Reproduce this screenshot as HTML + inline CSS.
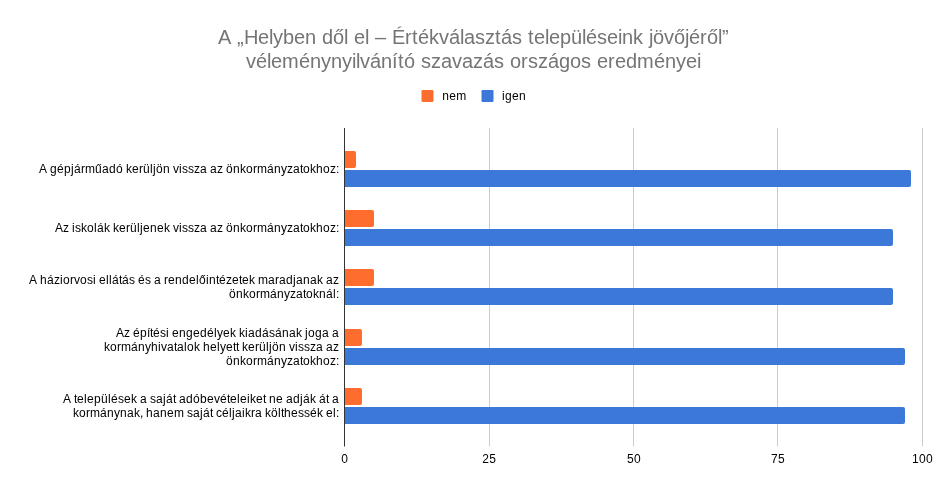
<!DOCTYPE html>
<html><head><meta charset="utf-8">
<style>
html,body{margin:0;padding:0;background:#fff;}
body{width:947px;height:495px;overflow:hidden;font-family:"Liberation Sans",sans-serif;}
svg{display:block;will-change:transform;}
text{font-family:"Liberation Sans",sans-serif;white-space:pre;}
</style></head><body>
<svg width="947" height="495" viewBox="0 0 947 495">
<rect width="947" height="495" fill="#fff"/>
<text x="218 231 237 244 258 269 273 283 294 305 316 322 333 344 348 354 365 369 375 386 392 405 412 418 429 439 449 460 464 475 485 495 501 512 522 528 534 545 549 560 571 582 586 597 607 618 622 633 643 649 653 664 674 685 689 700 707 718 722" y="43.7" font-size="20" fill="#757575">A „Helyben dől el – Értékválasztás településeink jövőjéről”</text>
<text x="246 256 267 271 282 299 310 321 331 342 352 356 360 370 381 392 398 404 415 421 431 441 452 462 473 483 494 504 510 521 528 538 548 559 570 581 591 597 608 615 626 637 654 665 676 686 697" y="67.7" font-size="20" fill="#757575">véleménynyilvánító szavazás országos eredményei</text>
<rect x="421.5" y="90" width="12" height="12" rx="1.2" fill="#ff6d2e"/>
<text x="442.3 449.3 456.3" y="99.5" font-size="12" fill="#000">nem</text>
<rect x="481.5" y="90" width="12" height="12" rx="1.2" fill="#3b78d8"/>
<text x="502 505 512 519" y="99.5" font-size="12" fill="#000">igen</text>
<g fill="#cccccc">
<rect x="489" y="128" width="1" height="318.5"/>
<rect x="633" y="128" width="1" height="318.5"/>
<rect x="777" y="128" width="1" height="318.5"/>
<rect x="922" y="128" width="1" height="318.5"/>
</g>
<g fill="#ff6d2e">
<path d="M345 151 H354 a2 2 0 0 1 2 2 V166 a2 2 0 0 1 -2 2 H345 Z"/>
<path d="M345 210 H372 a2 2 0 0 1 2 2 V225 a2 2 0 0 1 -2 2 H345 Z"/>
<path d="M345 269 H372 a2 2 0 0 1 2 2 V284 a2 2 0 0 1 -2 2 H345 Z"/>
<path d="M345 329 H360 a2 2 0 0 1 2 2 V344 a2 2 0 0 1 -2 2 H345 Z"/>
<path d="M345 388 H360 a2 2 0 0 1 2 2 V403 a2 2 0 0 1 -2 2 H345 Z"/>
</g><g fill="#3b78d8">
<path d="M345 170 H909 a2 2 0 0 1 2 2 V185 a2 2 0 0 1 -2 2 H345 Z"/>
<path d="M345 229 H891 a2 2 0 0 1 2 2 V244 a2 2 0 0 1 -2 2 H345 Z"/>
<path d="M345 288 H891 a2 2 0 0 1 2 2 V303 a2 2 0 0 1 -2 2 H345 Z"/>
<path d="M345 348 H903 a2 2 0 0 1 2 2 V363 a2 2 0 0 1 -2 2 H345 Z"/>
<path d="M345 407 H903 a2 2 0 0 1 2 2 V422 a2 2 0 0 1 -2 2 H345 Z"/>
</g>
<rect x="344" y="128" width="1" height="318.5" fill="#333"/>
<text x="39 47 50 57 64 71 74 81 85 95 102 109 116 123 126 132 139 143 150 153 156 163 170 173 179 182 188 194 200 207 210 217 223 226 233 240 246 253 257 267 274 281 287 293 300 303 310 316 323 330 336" y="173" font-size="12" fill="#000">A gépjárműadó kerüljön vissza az önkormányzatokhoz:</text>
<text x="55 63 69 72 75 81 87 94 97 104 110 113 119 126 130 137 140 143 150 157 164 170 173 179 182 188 194 200 207 210 217 223 226 233 240 246 253 257 267 274 281 287 293 300 303 310 316 323 330 336" y="232" font-size="12" fill="#000">Az iskolák kerüljenek vissza az önkormányzatokhoz:</text>
<text x="29 37 40 47 54 60 63 70 74 80 87 93 96 99 106 109 112 119 122 129 135 138 145 151 154 161 164 168 175 182 189 196 199 206 209 216 219 226 232 239 242 249 255 258 268 275 279 286 293 296 303 310 317 323 326 333" y="284" font-size="12" fill="#000">A háziorvosi ellátás és a rendelőintézetek maradjanak az</text>
<text x="229 236 243 249 256 260 270 277 284 290 296 303 306 313 319 326 333 336" y="298" font-size="12" fill="#000">önkormányzatoknál:</text>
<text x="116 124 130 133 140 147 150 153 160 166 169 172 179 186 193 200 207 214 217 223 230 236 239 245 248 255 262 269 275 282 289 296 302 305 308 315 322 329 332" y="337" font-size="12" fill="#000">Az építési engedélyek kiadásának joga a</text>
<text x="104 110 117 121 131 138 145 151 158 161 167 174 177 184 187 194 200 203 210 217 220 226 233 236 239 242 248 255 259 266 269 272 279 286 289 295 298 304 310 316 323 326 333" y="351" font-size="12" fill="#000">kormányhivatalok helyett kerüljön vissza az</text>
<text x="226 233 240 246 253 257 267 274 281 287 293 300 303 310 316 323 330 336" y="365" font-size="12" fill="#000">önkormányzatokhoz:</text>
<text x="63 71 74 77 84 87 94 101 108 111 118 124 131 137 140 147 150 156 163 166 173 176 179 186 193 200 207 214 220 227 230 237 240 247 250 256 263 266 269 276 283 286 293 300 303 310 316 319 326 329 332" y="403" font-size="12" fill="#000">A települések a saját adóbevételeiket ne adják át a</text>
<text x="73 79 86 90 100 107 114 120 127 134 140 143 146 153 160 167 174 184 187 193 200 203 210 213 216 222 229 232 235 242 245 251 255 262 265 271 278 281 284 291 298 304 310 317 323 326 333 336" y="417" font-size="12" fill="#000">kormánynak, hanem saját céljaikra költhessék el:</text>
<text x="341.2" y="463.4" font-size="12" fill="#000">0</text>
<text x="482.3 489.3" y="463.4" font-size="12" fill="#000">25</text>
<text x="627.1 634.1" y="463.4" font-size="12" fill="#000">50</text>
<text x="771.1 778.1" y="463.4" font-size="12" fill="#000">75</text>
<text x="911.9 918.9 925.9" y="463.4" font-size="12" fill="#000">100</text>
</svg>
</body></html>
